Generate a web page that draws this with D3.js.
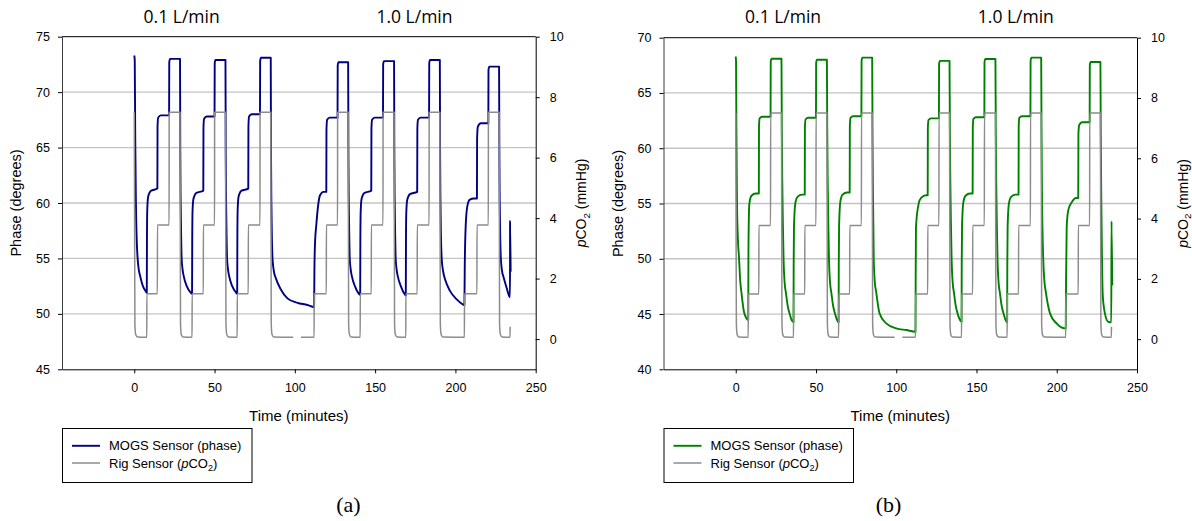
<!DOCTYPE html>
<html><head><meta charset="utf-8">
<script src="https://cdn.jsdelivr.net/npm/d3@7"></script>
<style>body{margin:0;background:#fff}svg{display:block}</style>
</head><body>
<svg id="c" width="1192" height="521"></svg>
<script>
// ---------------- data ----------------
const timeTicks = [0, 50, 100, 150, 200, 250];
const phaseTicksA = [45, 50, 55, 60, 65, 70, 75];
const phaseTicksB = [40, 45, 50, 55, 60, 65, 70];
const pco2Ticks = [0, 2, 4, 6, 8, 10];
const flowLabels = ["0.1 L/min", "1.0 L/min"];
const flowLabelTimes = [29.5, 174.5];
const panelLabels = ["(a)", "(b)"];

// Rig sensor pCO2 (mmHg) : [time (min), value]; null = missing data
const rigCO2 = [
 [0,7.5],[0.4,0.5],[0.9,0.15],[2.0,0.07],[7.8,0.06],[7.85,1.5],[14.4,1.5],[14.45,3.77],[21.7,3.77],[21.75,7.5],[28.5,7.5],
 [28.8,0.5],[29.3,0.15],[30.4,0.07],[36.0,0.06],[36.05,1.5],[43.0,1.5],[43.05,3.77],[50.0,3.77],[50.05,7.5],[56.8,7.5],
 [57.1,0.5],[57.6,0.15],[58.7,0.07],[64.1,0.06],[64.15,1.5],[71.0,1.5],[71.05,3.77],[78.3,3.77],[78.35,7.5],[85.0,7.5],
 [85.3,0.5],[85.8,0.15],[86.9,0.07],[99.0,0.06],[101.0,null],[103.8,0.06],[112.0,0.06],[112.05,1.5],[119.6,1.5],[119.65,3.77],[126.6,3.77],[126.65,7.5],[133.2,7.5],
 [133.5,0.5],[134.0,0.15],[135.1,0.07],[140.7,0.06],[140.75,1.5],[147.6,1.5],[147.65,3.77],[154.9,3.77],[154.95,7.5],[161.8,7.5],
 [162.1,0.5],[162.6,0.15],[163.7,0.07],[169.1,0.06],[169.15,1.5],[176.2,1.5],[176.25,3.77],[183.6,3.77],[183.65,7.5],[190.3,7.5],
 [190.6,0.5],[191.1,0.15],[192.2,0.07],[205.6,0.06],[205.65,1.5],[213.4,1.5],[213.45,3.77],[220.5,3.77],[220.55,7.5],[227.2,7.5],
 [227.5,0.5],[228.0,0.15],[229.1,0.07],[234.0,0.06],[234.1,0.41]
];

// MOGS sensor phase (degrees), panel (a)
const phaseA = [
 [0,73.3],[0.3,72.9],[0.6,66],[1.0,60.3],[1.5,56.8],[2.1,55.0],[2.8,54.0],[3.7,53.4],[5.4,52.5],[7.3,52.0],[7.8,51.9],
 [7.9,56.5],[8.1,59.4],[8.7,60.6],[10.4,61.1],[14.4,61.3],
 [14.5,66.9],[14.9,67.7],[16.5,67.9],[21.7,67.9],
 [21.8,72.7],[22.3,73.0],[28.5,73.0],
 [28.65,65],[28.9,60],[29.2,57],[29.5,55],[30.1,54],[30.8,53.4],[32.7,52.5],[35.2,51.9],[36.0,51.8],
 [36.1,56.4],[36.3,59.3],[36.9,60.4],[38.6,60.9],[43.0,61.1],
 [43.1,66.8],[43.5,67.6],[45.1,67.8],[50.0,67.8],
 [50.1,72.6],[50.6,72.9],[56.8,72.9],
 [56.95,65],[57.2,60],[57.5,57],[57.8,55],[58.4,54],[59.1,53.4],[61.0,52.5],[63.5,51.9],[64.1,51.8],
 [64.2,56.5],[64.4,59.4],[65.0,60.6],[66.7,61.1],[71.0,61.3],
 [71.1,66.9],[71.5,67.8],[73.1,68.0],[78.3,68.0],
 [78.4,72.8],[78.9,73.1],[85.0,73.1],
 [85.15,65],[85.4,60],[85.7,57],[86.1,55],[87.0,53.8],[88.2,53.2],[91.3,52.2],[95.4,51.4],[101.6,51.0],[107.9,50.8],[112.0,50.6],
 [112.2,54],[112.6,56.5],[113.3,57.9],[114.7,60.0],[115.7,60.7],[117.8,61.0],[119.6,61.0],
 [119.7,66.6],[120.1,67.5],[121.7,67.7],[126.6,67.7],
 [126.7,72.4],[127.2,72.7],[133.2,72.7],
 [133.35,65],[133.6,60],[133.9,57],[134.2,55],[134.8,54],[135.5,53.4],[137.4,52.5],[139.9,51.8],[140.7,51.7],
 [140.8,56.3],[141.0,59.2],[141.6,60.4],[143.3,60.9],[147.6,61.1],
 [147.7,66.7],[148.1,67.5],[149.7,67.7],[154.9,67.7],
 [155.0,72.5],[155.5,72.8],[161.8,72.8],
 [161.95,65],[162.2,60],[162.5,57],[162.8,55],[163.4,54],[164.1,53.4],[166.0,52.5],[168.5,51.75],[169.1,51.65],
 [169.2,56.2],[169.4,59.1],[170.0,60.3],[171.7,60.8],[176.2,61.0],
 [176.3,66.7],[176.7,67.5],[178.3,67.7],[183.6,67.7],
 [183.7,72.6],[184.2,72.9],[190.3,72.9],
 [190.45,65],[190.7,60],[191.0,57],[191.5,54.9],[192.4,53.8],[193.6,53.1],[196.7,52.05],[200.9,51.3],[204.6,50.85],[205.6,50.8],
 [205.8,54],[206.4,57.9],[207.4,59.7],[209.0,60.3],[211.5,60.4],[213.4,60.4],
 [213.5,65.8],[214.0,66.9],[215.8,67.2],[220.5,67.2],
 [220.6,72.0],[221.1,72.3],[227.2,72.3],
 [227.35,65],[227.6,60],[227.9,57],[228.3,55],[229.0,53.9],[230.0,53.3],[232.0,52.3],[233.5,51.6],[234.0,51.5],
 [234.05,58.4],[234.4,53.8]
];

// MOGS sensor phase (degrees), panel (b)
const phaseB = [
 [0,68.3],[0.2,67.8],[0.4,62],[0.8,55],[1.3,52],[2.1,50],[2.8,48],[3.6,46.9],[5.0,45.3],[6.7,44.6],[7.8,44.45],
 [7.9,50],[8.1,53],[8.5,55.0],[9.8,55.7],[12.5,55.9],[14.4,55.9],
 [14.5,62.0],[14.9,62.7],[16.5,62.85],[21.7,62.85],
 [21.8,67.8],[22.3,68.1],[28.5,68.1],
 [28.7,62],[29.0,57],[29.4,53],[29.8,50],[30.5,47.8],[31.3,46.9],[32.3,45.8],[33.5,45.06],[34.7,44.5],[36.0,44.25],
 [36.1,49.5],[36.3,52.9],[37.1,55.0],[38.5,55.6],[41.2,55.8],[43.0,55.8],
 [43.1,61.9],[43.5,62.6],[45.1,62.76],[50.0,62.76],
 [50.1,67.7],[50.6,68.0],[56.8,68.0],
 [57.0,62],[57.3,57],[57.7,53],[58.1,50],[58.8,47.8],[59.6,46.9],[60.6,45.8],[61.8,45.06],[63.0,44.5],[64.1,44.25],
 [64.2,49.5],[64.4,53.0],[65.2,55.2],[66.6,55.8],[69.3,56.0],[71.0,56.0],
 [71.1,62.0],[71.5,62.75],[73.1,62.9],[78.3,62.9],
 [78.4,67.9],[78.9,68.2],[85.0,68.2],
 [85.2,62],[85.5,56],[86.0,49.9],[86.6,48.0],[87.6,46.9],[89.6,45.06],[93.8,44.15],[100.0,43.7],[106.3,43.55],[112.0,43.4],
 [112.1,48],[112.3,52.9],[114.0,55.0],[115.5,55.5],[118.6,55.75],[119.6,55.75],
 [119.7,61.8],[120.1,62.55],[121.7,62.7],[126.6,62.7],
 [126.7,67.6],[127.2,67.9],[133.2,67.9],
 [133.4,62],[133.7,57],[134.1,53],[134.5,50],[135.2,47.8],[136.0,46.9],[137.0,45.8],[138.2,45.06],[139.4,44.55],[140.7,44.3],
 [140.8,49.5],[141.0,53.0],[141.8,55.1],[143.2,55.7],[145.9,55.9],[147.6,55.9],
 [147.7,61.9],[148.1,62.65],[149.7,62.8],[154.9,62.8],
 [155.0,67.8],[155.5,68.07],[161.8,68.07],
 [162.0,62],[162.3,57],[162.7,53],[163.1,50],[163.8,47.8],[164.6,46.9],[165.6,45.8],[166.8,45.06],[168.0,44.5],[169.1,44.25],
 [169.2,49.5],[169.4,52.9],[170.2,55.0],[171.6,55.6],[174.3,55.8],[176.2,55.8],
 [176.3,62.0],[176.7,62.75],[178.3,62.9],[183.6,62.9],
 [183.7,67.9],[184.2,68.2],[190.3,68.2],
 [190.5,62],[190.8,56],[191.6,49.9],[192.3,48.0],[193.3,46.9],[195.8,45.06],[199.9,44.15],[205.1,43.7],[205.6,43.7],
 [205.8,48],[206.2,52.9],[207.2,54.4],[209.3,55.1],[212.0,55.5],[213.4,55.5],
 [213.5,61.3],[214.0,62.1],[215.8,62.35],[220.5,62.35],
 [220.6,67.5],[221.1,67.8],[227.2,67.8],
 [227.4,62],[227.7,56],[228.2,50],[228.6,46.9],[229.2,45.8],[230.0,45.06],[232.1,44.3],[234.0,44.25],
 [234.1,53.4],[234.6,47.6]
];

// ---------------- drawing ----------------
const svg = d3.select("#c");
const TICKFONT = "'Liberation Sans', Arial, sans-serif";

const panels = [
  {id:"a", left:62, right:535.7, top:36.7, bottom:369.3, domain:[45,75], ticks:phaseTicksA,
   data:phaseA, color:"#000080", legendX:62, caption:panelLabels[0], captionX:348.5},
  {id:"b", left:663.5, right:1137, top:37.7, bottom:369.3, domain:[40,70], ticks:phaseTicksB,
   data:phaseB, color:"#008000", legendX:663.5, caption:panelLabels[1], captionX:888.5}
];

function pco2Text(sel, size) {
  sel.append("tspan").attr("font-style","italic").text("p");
  sel.append("tspan").text("CO");
  sel.append("tspan").attr("font-size", size*0.7).attr("dy", size*0.25).text("2");
  return sel;
}

panels.forEach(p => {
  const x = d3.scaleLinear().domain([-45, 250]).range([p.left, p.right]);
  const yL = d3.scaleLinear().domain(p.domain).range([p.bottom, p.top]);
  const yR = d3.scaleLinear().domain([-1, 10]).range([p.bottom, p.top]);
  const g = svg.append("g");

  // gridlines
  g.append("g").selectAll("line").data(p.ticks.slice(1, -1)).join("line")
    .attr("x1", p.left).attr("x2", p.right)
    .attr("y1", d => yL(d)).attr("y2", d => yL(d))
    .attr("stroke", "#c4c4c4").attr("stroke-width", 1.3);

  // series
  const lineL = d3.line().curve(d3.curveMonotoneX).x(d => x(d[0])).y(d => yL(d[1]));
  const lineR = d3.line().curve(d3.curveMonotoneX).defined(d => d[1] != null).x(d => x(d[0])).y(d => yR(d[1]));
  g.append("path").datum(p.data).attr("d", lineL)
    .attr("fill", "none").attr("stroke", p.color).attr("stroke-width", 1.9)
    .attr("stroke-linejoin", "round");
  g.append("path").datum(rigCO2).attr("d", lineR)
    .attr("fill", "none").attr("stroke", "#8c8c8c").attr("stroke-width", 1.5)
    .attr("stroke-linejoin", "round");

  // top border
  g.append("line").attr("x1", p.left).attr("x2", p.right).attr("y1", p.top).attr("y2", p.top)
    .attr("stroke", "#000").attr("stroke-width", 1);

  // axes
  const axL = g.append("g").attr("transform", `translate(${p.left},0)`)
    .call(d3.axisLeft(yL).tickValues(p.ticks).tickSize(4).tickSizeOuter(0).tickPadding(8).tickFormat(d3.format("d")));
  const axB = g.append("g").attr("transform", `translate(0,${p.bottom})`)
    .call(d3.axisBottom(x).tickValues(timeTicks).tickSize(4).tickSizeOuter(0).tickPadding(10).tickFormat(d3.format("d")));
  const axR = g.append("g").attr("transform", `translate(${p.right},0)`)
    .call(d3.axisRight(yR).tickValues(pco2Ticks).tickSize(4).tickSizeOuter(0).tickPadding(10).tickFormat(d3.format("d")));
  [axL, axB, axR].forEach(a => {
    a.selectAll("text").attr("font-family", TICKFONT).attr("font-size", 12.5).attr("fill", "#000");
    a.selectAll("line,path").attr("stroke", "#000");
  });
  axL.select(".domain").attr("stroke", "#3a3a3a");

  // axis titles
  svg.append("text").attr("transform", `translate(${p.left - 41},${(p.top + p.bottom) / 2}) rotate(-90)`)
    .attr("text-anchor", "middle").attr("font-family", TICKFONT).attr("font-size", 14.5)
    .text("Phase (degrees)");
  const rt = svg.append("text").attr("transform", `translate(${p.right + 50.5},${(p.top + p.bottom) / 2}) rotate(-90)`)
    .attr("text-anchor", "middle").attr("font-family", TICKFONT).attr("font-size", 14);
  pco2Text(rt, 14);
  rt.append("tspan").attr("dy", -14*0.25).text(" (mmHg)");

  svg.append("text").attr("x", (p.left + p.right) / 2).attr("y", 421)
    .attr("text-anchor", "middle").attr("font-family", TICKFONT).attr("font-size", 15)
    .text("Time (minutes)");

  // flow labels
  flowLabels.forEach((t, i) => {
    svg.append("text").attr("x", x(flowLabelTimes[i])).attr("y", 23.3)
      .attr("text-anchor", "middle").attr("font-family", "'Open Sans', 'Noto Sans', sans-serif")
      .attr("font-size", 17.5).text(t);
  });

  // legend
  const lg = svg.append("g").attr("transform", `translate(${p.legendX},428.5)`);
  lg.append("rect").attr("x", 0.5).attr("y", 0).attr("width", 189.5).attr("height", 54)
    .attr("fill", "#fff").attr("stroke", "#000").attr("stroke-width", 1);
  const items = [{c: p.color, w: 1.9, y: 17.3}, {c: "#8c8c8c", w: 1.5, y: 34.5}];
  items.forEach((it, i) => {
    lg.append("line").attr("x1", 10).attr("x2", 38).attr("y1", it.y).attr("y2", it.y)
      .attr("stroke", it.c).attr("stroke-width", it.w);
    const t = lg.append("text").attr("x", 47).attr("y", it.y + 4.6)
      .attr("font-family", TICKFONT).attr("font-size", 13);
    if (i === 0) t.text("MOGS Sensor (phase)");
    else {
      t.append("tspan").text("Rig Sensor (");
      pco2Text(t, 13);
      t.append("tspan").attr("dy", -13*0.25).text(")");
    }
  });

  // caption
  svg.append("text").attr("x", p.captionX).attr("y", 512)
    .attr("text-anchor", "middle").attr("font-family", "'Liberation Serif', 'Times New Roman', serif")
    .attr("font-size", 22).text(p.caption);
});
</script>
</body></html>
